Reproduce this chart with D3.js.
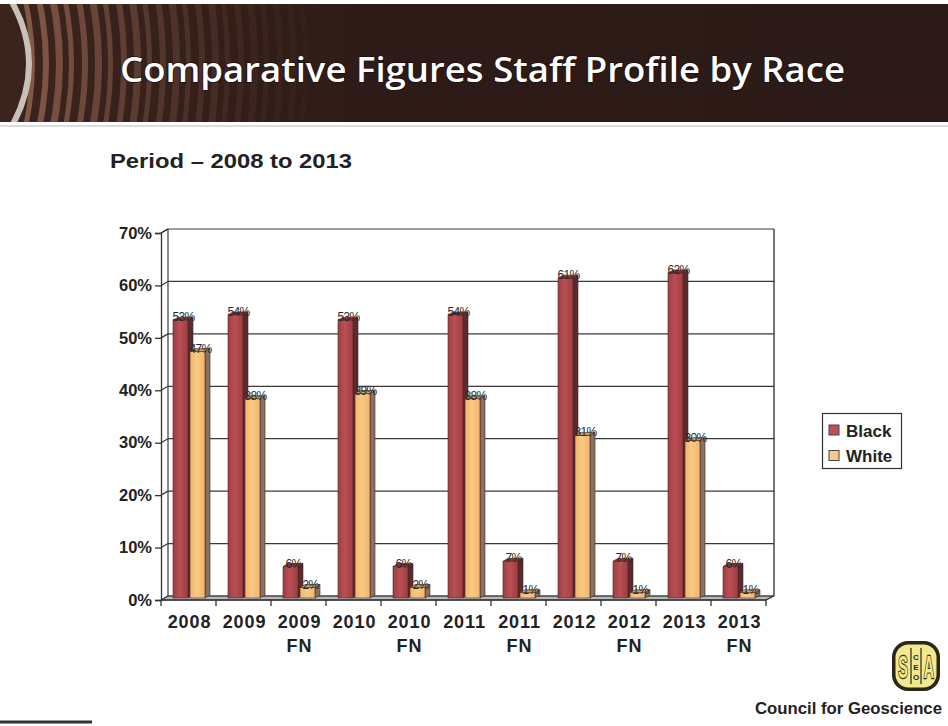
<!DOCTYPE html>
<html>
<head>
<meta charset="utf-8">
<script src="https://cdn.jsdelivr.net/npm/d3@7"></script>
<style>
  html, body { margin: 0; padding: 0; background: #fff; }
  svg { display: block; }
</style>
</head>
<body>
<svg id="chart" width="948" height="726"></svg>
<script>
// Staff profile by race, share of staff per period
const categories = ["2008", "2009", "2009 FN", "2010", "2010 FN", "2011", "2011 FN", "2012", "2012 FN", "2013", "2013 FN"];
const blackPct = [53, 54, 6, 53, 6, 54, 7, 61, 7, 62, 6];
const whitePct = [47, 38, 2, 39, 2, 38, 1, 31, 1, 30, 1];
const seriesNames = ["Black", "White"];
const yTickValues = [0, 10, 20, 30, 40, 50, 60, 70];

const svg = d3.select("#chart");
const W = 948, H = 726;
const SANS = "'Liberation Sans', Arial, sans-serif";

// ---------- Title banner ----------
const defs = svg.append("defs");
const bannerGrad = defs.append("linearGradient").attr("id", "bannerGrad")
  .attr("x1", 0).attr("x2", 1).attr("y1", 0).attr("y2", 0);
bannerGrad.append("stop").attr("offset", "0%").attr("stop-color", "#3b241d");
bannerGrad.append("stop").attr("offset", "40%").attr("stop-color", "#2e1b17");
bannerGrad.append("stop").attr("offset", "100%").attr("stop-color", "#2b1a17");

defs.append("clipPath").attr("id", "bannerClip")
  .append("rect").attr("x", 0).attr("y", 4).attr("width", W).attr("height", 118);

svg.append("rect").attr("x", 0).attr("y", 4).attr("width", W).attr("height", 118)
  .attr("fill", "url(#bannerGrad)");

// concentric stripes sweeping in from the left edge
const arcs = svg.append("g").attr("clip-path", "url(#bannerClip)");
arcs.selectAll("path.stripe").data(d3.range(0, 24)).join("path")
  .attr("class", "stripe")
  .attr("d", i => {
    const r = 280 + i * 13;
    return d3.arc()({innerRadius: r, outerRadius: r + 5 + (i % 3), startAngle: Math.PI / 2 - 0.6, endAngle: Math.PI / 2 + 0.6});
  })
  .attr("transform", "translate(-250,64)")
  .attr("fill", (d, i) => d3.interpolateRgb("#8c5e4b", "#3a2520")(i / 24))
  .attr("opacity", (d, i) => 0.9 - i * 0.033);

// light curved edge at the left of the banner
arcs.append("path")
  .attr("d", "M12,2 Q46,64 12,126")
  .attr("fill", "none").attr("stroke", "#c9c0b8").attr("stroke-width", 6);

svg.append("line").attr("x1", 0).attr("x2", W).attr("y1", 126).attr("y2", 126)
  .attr("stroke", "#dedbd9").attr("stroke-width", 2);

svg.append("text")
  .attr("x", 120).attr("y", 82)
  .attr("textLength", 725).attr("lengthAdjust", "spacingAndGlyphs")
  .attr("font-family", "'Open Sans', Lato, sans-serif")
  .attr("font-weight", 600).attr("font-size", 34)
  .attr("fill", "#ffffff")
  .style("paint-order", "stroke")
  .attr("stroke", "#1a0e0b").attr("stroke-width", 1.5)
  .text("Comparative Figures Staff Profile by Race");

// ---------- Subtitle ----------
svg.append("text")
  .attr("x", 110).attr("y", 168)
  .attr("textLength", 242).attr("lengthAdjust", "spacingAndGlyphs")
  .attr("font-family", SANS)
  .attr("font-weight", "bold").attr("font-size", 21)
  .attr("fill", "#222")
  .text("Period \u2013 2008 to 2013");

// ---------- Chart ----------
const x0 = 161, x1 = 766;
const DX = 7, DY = -4; // depth offset of the back wall
const x = d3.scaleBand().domain(categories).range([x0, x1]).padding(0);
const y = d3.scaleLinear().domain([0, 70]).range([600, 233]);
const xs = d3.scaleBand().domain(seriesNames).range([12, 46]).padding(0);
const faceW = 15, sideW = 5, topH = 3;

const g = svg.append("g");

// floor
g.append("path")
  .attr("d", `M${x0},${y(0)} L${x0 + DX},${y(0) + DY} L${x1 + DX},${y(0) + DY} L${x1},${y(0)} Z`)
  .attr("fill", "#b9b9b9").attr("stroke", "#555").attr("stroke-width", 1);

// back wall gridlines and left wall slants
yTickValues.forEach(v => {
  g.append("line")
    .attr("x1", x0 + DX).attr("x2", x1 + DX + 1)
    .attr("y1", y(v) + DY).attr("y2", y(v) + DY)
    .attr("stroke", "#3a3a3a").attr("stroke-width", 1.2);
  g.append("line")
    .attr("x1", x0).attr("x2", x0 + DX)
    .attr("y1", y(v)).attr("y2", y(v) + DY)
    .attr("stroke", "#3a3a3a").attr("stroke-width", 1.2);
});
// back wall edges
g.append("line").attr("x1", x0 + DX).attr("x2", x0 + DX)
  .attr("y1", y(70) + DY).attr("y2", y(0) + DY).attr("stroke", "#3a3a3a").attr("stroke-width", 1.2);
g.append("line").attr("x1", x1 + DX + 1).attr("x2", x1 + DX + 1)
  .attr("y1", y(70) + DY).attr("y2", y(0) + DY).attr("stroke", "#3a3a3a").attr("stroke-width", 1.4);

// bars
const seriesData = [
  {name: "Black", values: blackPct, face: "#a23c3e", faceHi: "#b85056", side: "#5b2a2e", top: "#7d3438"},
  {name: "White", values: whitePct, face: "#f3b468", faceHi: "#f8c987", side: "#8a725e", top: "#c99a62"}
];
seriesData.forEach(s => {
  const grad = defs.append("linearGradient").attr("id", "grad" + s.name)
    .attr("x1", 0).attr("x2", 1).attr("y1", 0).attr("y2", 0);
  grad.append("stop").attr("offset", "0%").attr("stop-color", s.face);
  grad.append("stop").attr("offset", "45%").attr("stop-color", s.faceHi);
  grad.append("stop").attr("offset", "100%").attr("stop-color", s.face);
});

const barsG = g.append("g");
categories.forEach((c, i) => {
  seriesData.forEach(s => {
    const v = s.values[i];
    const bx = x(c) + xs(s.name);
    const yt = y(v) - 2;
    const yb = 598;
    const bar = barsG.append("g");
    bar.append("path")
      .attr("d", `M${bx + faceW},${yt} L${bx + faceW + sideW},${yt - topH} L${bx + faceW + sideW},${yb - topH} L${bx + faceW},${yb} Z`)
      .attr("fill", s.side).attr("stroke", "#3a2a2a").attr("stroke-width", 0.6);
    bar.append("path")
      .attr("d", `M${bx},${yt} L${bx + sideW},${yt - topH} L${bx + faceW + sideW},${yt - topH} L${bx + faceW},${yt} Z`)
      .attr("fill", s.top).attr("stroke", "#3a2a2a").attr("stroke-width", 0.6);
    bar.append("rect")
      .attr("x", bx).attr("y", yt).attr("width", faceW).attr("height", yb - yt)
      .attr("fill", "url(#grad" + s.name + ")").attr("stroke", "#4a2a2a").attr("stroke-width", 0.6);
    bar.append("text")
      .attr("x", bx + faceW / 2 + 3).attr("y", yt + 1)
      .attr("text-anchor", "middle")
      .attr("font-family", SANS)
      .attr("font-size", 12).attr("letter-spacing", -0.6)
      .attr("fill", "#2a2a2a")
      .text(v + "%");
  });
});

// front y axis
const yAxis = d3.axisLeft(y).tickValues(yTickValues).tickFormat(d => d + "%").tickSize(6).tickPadding(3);
const ya = svg.append("g").attr("transform", `translate(${x0},0)`).call(yAxis);
ya.select(".domain").attr("stroke", "#333").attr("stroke-width", 1.3);
ya.selectAll(".tick line").attr("stroke", "#333").attr("stroke-width", 1.3);
ya.selectAll(".tick text")
  .attr("font-family", SANS)
  .attr("font-weight", "bold").attr("font-size", 16.5).attr("fill", "#222");
// top slant of left wall
svg.append("line").attr("x1", x0).attr("x2", x0 + DX).attr("y1", y(70)).attr("y2", y(70) + DY)
  .attr("stroke", "#333").attr("stroke-width", 1.2);

// front x axis line and category ticks
const xa = svg.append("g");
xa.append("line").attr("x1", x0).attr("x2", x1).attr("y1", y(0)).attr("y2", y(0))
  .attr("stroke", "#333").attr("stroke-width", 1.3);
xa.append("line").attr("x1", x1).attr("x2", x1 + DX + 1).attr("y1", y(0)).attr("y2", y(0) + DY)
  .attr("stroke", "#333").attr("stroke-width", 1.2);
const boundaries = categories.map(c => x(c)).concat([x1]);
xa.selectAll("line.tick").data(boundaries).join("line").attr("class", "tick")
  .attr("x1", d => d).attr("x2", d => d).attr("y1", y(0)).attr("y2", y(0) + 6)
  .attr("stroke", "#333").attr("stroke-width", 1.3);
const labels = xa.selectAll("text.cat").data(categories).join("text").attr("class", "cat")
  .attr("text-anchor", "middle")
  .attr("font-family", SANS)
  .attr("font-weight", "bold").attr("font-size", 18).attr("letter-spacing", 0.9)
  .attr("fill", "#222");
labels.each(function (c) {
  const parts = c.split(" ");
  const t = d3.select(this);
  parts.forEach((p, k) => {
    t.append("tspan").attr("x", x(c) + x.bandwidth() / 2 + 1).attr("y", 628 + k * 24).text(p);
  });
});

// legend
const lg = svg.append("g");
lg.append("rect").attr("x", 822.5).attr("y", 413.5).attr("width", 79).attr("height", 55)
  .attr("fill", "#fff").attr("stroke", "#333").attr("stroke-width", 1.2);
seriesData.forEach((s, k) => {
  lg.append("rect").attr("x", 829).attr("y", 425 + k * 25.5).attr("width", 10).attr("height", 10)
    .attr("fill", s.faceHi).attr("stroke", "#444").attr("stroke-width", 1);
  lg.append("text").attr("x", 846).attr("y", 436.5 + k * 25.5)
    .attr("font-family", SANS)
    .attr("font-weight", "bold").attr("font-size", 17).attr("fill", "#222")
    .text(s.name);
});

// ---------- Footer ----------
svg.append("text").attr("x", 755).attr("y", 714)
  .attr("textLength", 187).attr("lengthAdjust", "spacingAndGlyphs")
  .attr("font-family", SANS)
  .attr("font-weight", "bold").attr("font-size", 16).attr("fill", "#222")
  .text("Council for Geoscience");

// emblem
const INK = "#2c2618", GOLD = "#f2e88e";
const logo = svg.append("g").attr("transform", "translate(916,666)");
logo.append("rect").attr("x", -24).attr("y", -25).attr("width", 48).attr("height", 50).attr("rx", 16)
  .attr("fill", INK);
logo.append("rect").attr("x", -20.5).attr("y", -21.5).attr("width", 41).attr("height", 43).attr("rx", 13)
  .attr("fill", GOLD);
// tall outlined S and A, drawn small and stretched vertically
[["S", -13], ["A", 13]].forEach(([ch, cx]) => {
  logo.append("g").attr("transform", `translate(${cx},12) scale(0.95,2.1)`)
    .append("text").attr("x", 0).attr("y", 0).attr("text-anchor", "middle")
    .attr("font-family", SANS).attr("font-weight", "bold")
    .attr("font-size", 15).attr("fill", GOLD).attr("stroke", INK).attr("stroke-width", 1.1)
    .style("paint-order", "stroke").text(ch);
});
logo.append("line").attr("x1", -5).attr("x2", -5).attr("y1", -18).attr("y2", 18).attr("stroke", INK).attr("stroke-width", 1.2);
logo.append("line").attr("x1", 5).attr("x2", 5).attr("y1", -18).attr("y2", 18).attr("stroke", INK).attr("stroke-width", 1.2);
["C", "E", "O"].forEach((ch, k) => {
  logo.append("text").attr("x", 0).attr("y", -6 + k * 10).attr("text-anchor", "middle")
    .attr("font-family", SANS).attr("font-weight", "bold")
    .attr("font-size", 8).attr("fill", INK).text(ch);
});

// slide corner rule
svg.append("line").attr("x1", 0).attr("x2", 92).attr("y1", 722).attr("y2", 722)
  .attr("stroke", "#333").attr("stroke-width", 3);
</script>
</body>
</html>
